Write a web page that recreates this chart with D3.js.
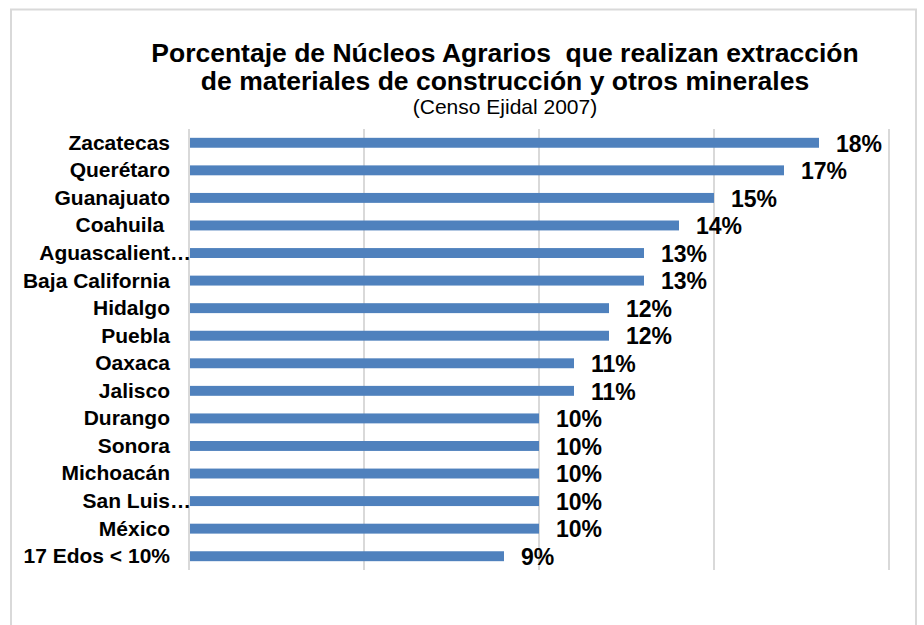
<!DOCTYPE html>
<html>
<head>
<meta charset="utf-8">
<script src="https://cdn.jsdelivr.net/npm/d3@7"></script>
<style>
  body { margin: 0; background: #fff; }
  text { font-family: "Liberation Sans", Arial, sans-serif; }
</style>
</head>
<body>
<div id="chart"></div>
<script>
var width = 924,
    height = 625;

var states = ["Zacatecas", "Querétaro", "Guanajuato", "Coahuila ", "Aguascalient…",
              "Baja California", "Hidalgo", "Puebla", "Oaxaca", "Jalisco", "Durango",
              "Sonora", "Michoacán", "San Luis…", "México", "17 Edos < 10%"];
var values = [18, 17, 15, 14, 13, 13, 12, 12, 11, 11, 10, 10, 10, 10, 10, 9];
var ticks = [0, 5, 10, 15, 20];

var titleLines = ["Porcentaje de Núcleos Agrarios  que realizan extracción",
                  "de materiales de construcción y otros minerales"];
var subtitle = "(Censo Ejidal 2007)";

var colors =
  { bar: "#4f81bd",
    grid: "#d9d9d9",
    frame: "#d9d9d9",
    text: "#000"
  };

var margin = { top: 129, left: 189, right: 35, bottom: 55 };

var svg = d3.select("#chart").append("svg")
    .attr("width", width)
    .attr("height", height);

// outer chart frame (bottom and right edges fall outside the picture)
svg.append("rect")
    .attr("x", 11).attr("y", 9.5)
    .attr("width", 905).attr("height", 700)
    .style("fill", "none")
    .style("stroke", colors.frame)
    .style("stroke-width", 2);

var x = d3.scaleLinear()
    .domain([0, 20])
    .range([margin.left, margin.left + 700]);

var y = d3.scaleBand()
    .domain(states)
    .range([margin.top, 570])
    .paddingInner(0.64)
    .paddingOuter(0.32);

// gridlines
svg.selectAll("line.grid")
    .data(ticks)
  .enter().append("line")
    .attr("class", "grid")
    .attr("x1", function(d) { return x(d); })
    .attr("x2", function(d) { return x(d); })
    .attr("y1", margin.top)
    .attr("y2", 570)
    .style("stroke", colors.grid)
    .style("stroke-width", 2);

// bars
svg.selectAll("rect.bar")
    .data(values)
  .enter().append("rect")
    .attr("class", "bar")
    .attr("x", x(0) + 1)
    .attr("y", function(d, i) { return y(states[i]); })
    .attr("width", function(d) { return x(d) - x(0) - 1; })
    .attr("height", y.bandwidth())
    .style("fill", colors.bar);

// category labels
svg.selectAll("text.cat")
    .data(states)
  .enter().append("text")
    .attr("class", "cat")
    .attr("x", function(d) { return d.slice(-1) == "…" ? 191 : 170; })
    .attr("y", function(d) { return y(d) + y.bandwidth() / 2; })
    .attr("dy", "0.33em")
    .attr("text-anchor", "end")
    .style("white-space", "pre")
    .style("font-size", "21px")
    .style("font-weight", "bold")
    .style("fill", colors.text)
    .text(function(d) { return d; });

// value labels
svg.selectAll("text.val")
    .data(values)
  .enter().append("text")
    .attr("class", "val")
    .attr("x", function(d) { return x(d) + 17; })
    .attr("y", function(d, i) { return y(states[i]) + y.bandwidth() / 2; })
    .attr("dy", "0.38em")
    .style("font-size", "23px")
    .style("font-weight", "bold")
    .style("fill", colors.text)
    .text(function(d) { return d + "%"; });

// title
svg.selectAll("text.title")
    .data(titleLines)
  .enter().append("text")
    .attr("class", "title")
    .attr("x", 505)
    .attr("y", function(d, i) { return 62 + i * 27.5; })
    .attr("text-anchor", "middle")
    .style("white-space", "pre")
    .style("font-size", "26.5px")
    .style("font-weight", "bold")
    .style("fill", colors.text)
    .text(function(d) { return d; });

svg.append("text")
    .attr("x", 505)
    .attr("y", 114)
    .attr("text-anchor", "middle")
    .style("font-size", "21px")
    .style("fill", colors.text)
    .text(subtitle);
</script>
</body>
</html>
